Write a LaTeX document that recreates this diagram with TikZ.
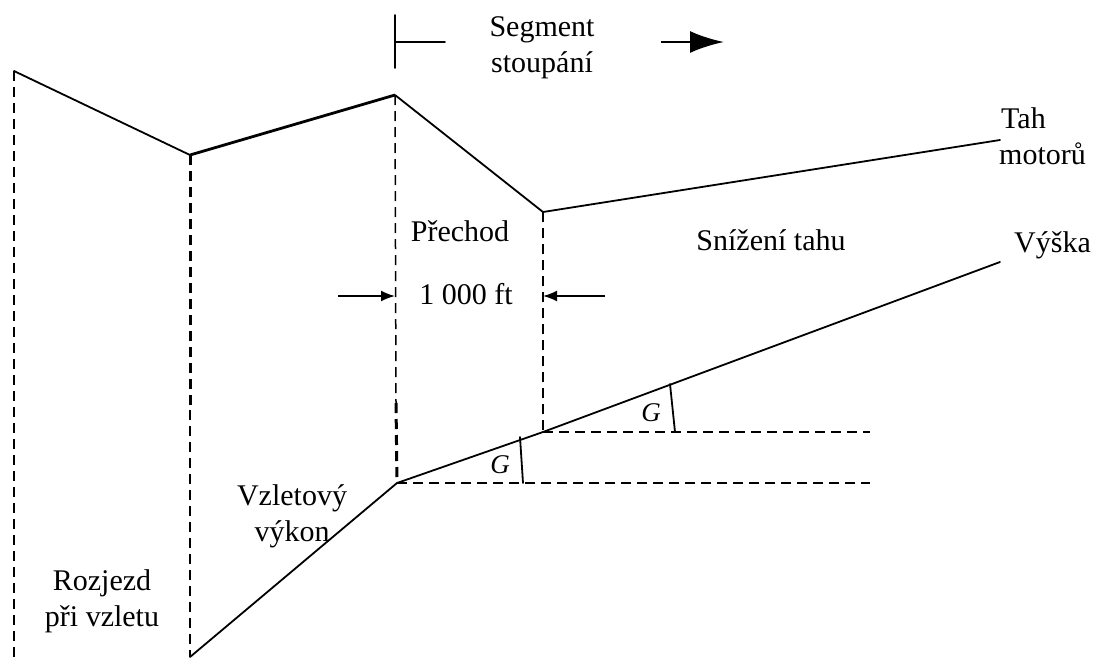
\documentclass[tikz,border=0pt]{standalone}
\usepackage{fontspec}
\setmainfont{Liberation Serif}
\usetikzlibrary{arrows.meta}
\begin{document}
\begin{tikzpicture}[x=1pt,y=-1pt,
  solidline/.style={line width=1.8pt,line cap=round,line join=round},
  thickline/.style={line width=2.8pt,line join=round},
  thindash/.style={line width=1.5pt,dash pattern=on 10pt off 6pt},
  thickdash/.style={line width=3pt,dash pattern=on 10pt off 6pt},
  lbl/.style={font=\fontsize{30}{36}\selectfont,align=center,inner sep=0pt},
  glbl/.style={font=\fontsize{27}{30}\selectfont\itshape,inner sep=0pt},
  smallarrow/.style={line width=1.8pt,-{Latex[length=14pt,width=11pt]}}
]
\useasboundingbox (0,0) rectangle (1110,657);
% key points
\coordinate (A) at (14,71);
\coordinate (B) at (190,155);
\coordinate (C) at (395,95);
\coordinate (D) at (543,212);
\coordinate (E) at (1000,140);
\coordinate (F) at (190,657);
\coordinate (P) at (397,483);
\coordinate (Q) at (543,432);
\coordinate (R) at (1000,262);
\coordinate (Abot) at (14,657);
\coordinate (Bmid) at (190,410);
\coordinate (Cmid) at (396,403);
\coordinate (Pend) at (870,483);
\coordinate (Qend) at (870,432);
% thrust line
\draw[solidline] (A) -- (B);
\draw[thickline] (B) -- (C);
\draw[solidline] (C) -- (D) -- (E);
% altitude line
\draw[solidline] (F) -- (P) -- (Q) -- (R);
% vertical dashed lines
\draw[thindash] (A) -- (Abot);
\draw[thickdash] (B) -- (Bmid);
\draw[thindash] (Bmid) -- (F);
\draw[thindash] (C) -- (Cmid);
\draw[thickdash] (Cmid) -- (P);
\draw[thindash] (D) -- (Q);
% horizontal dashed lines
\draw[thindash] (P) -- (Pend);
\draw[thindash] (Q) -- (Qend);
% G angle marks
\coordinate (g1t) at (520,437);
\coordinate (g1b) at (523,483);
\coordinate (g2t) at (670,384);
\coordinate (g2b) at (675,432);
\draw[solidline] (g1t) -- (g1b);
\draw[solidline] (g2t) -- (g2b);
\node[glbl] (G1) at (500,465) {G};
\node[glbl] (G2) at (651,413) {G};
% segment bracket
\coordinate (s1) at (395,15);
\coordinate (s2) at (395,68);
\coordinate (sm) at (395,42);
\coordinate (s3) at (445,42);
\draw[solidline] (s1) -- (s2);
\draw[solidline] (sm) -- (s3);
\coordinate (a1) at (661,42);
\coordinate (a2) at (724,42);
\draw[line width=2.8pt,-{Latex[length=34pt,width=22pt]}] (a1) -- (a2);
\node[lbl] (seg) at (542,48) {Segment\\stoupání};
% 1000 ft
\coordinate (l1) at (338,296);
\coordinate (l2) at (395,296);
\coordinate (r1) at (605,296);
\coordinate (r2) at (543,296);
\draw[smallarrow] (l1) -- (l2);
\draw[smallarrow] (r1) -- (r2);
\node[lbl] (ft) at (466,294) {1 000 ft};
\node[lbl] (prech) at (460,231) {Přechod};
\node[lbl] (sniz) at (771,240) {Snížení tahu};
\node[lbl,align=left,anchor=west] (tah) at (999,136) {\hspace*{2pt}Tah\\motorů};
\node[lbl,anchor=west] (vys) at (1014,245) {Výška};
\node[lbl] (vzl) at (292,516) {Vzletový\\výkon};
\node[lbl] (roz) at (102,601) {Rozjezd\\při vzletu};
\end{tikzpicture}
\end{document}
